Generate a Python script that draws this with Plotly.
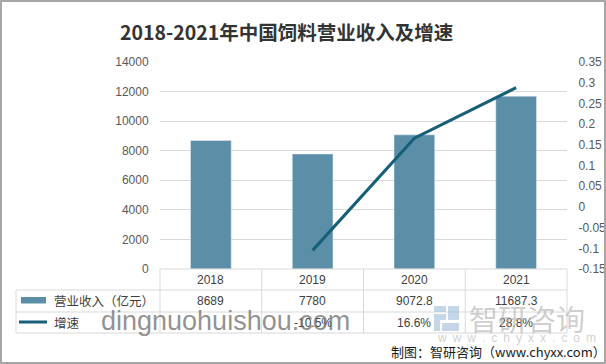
import plotly.graph_objects as go

# ---- data ----
years = ["2018", "2019", "2020", "2021"]
revenue = [8689, 7780, 9072.8, 11687.3]          # 营业收入（亿元）
growth_years = ["2019", "2020", "2021"]
growth = [-0.105, 0.166, 0.288]                  # 增速
left_ticks = [0, 2000, 4000, 6000, 8000, 10000, 12000, 14000]
right_ticks = [-0.15, -0.1, -0.05, 0, 0.05, 0.1, 0.15, 0.2, 0.25, 0.3, 0.35]
right_tick_text = ["-0.15", "-0.1", "-0.05", "0", "0.05", "0.1", "0.15", "0.2", "0.25", "0.3", "0.35"]
title = "2018-2021年中国饲料营业收入及增速"
series_names = ["营业收入（亿元）", "增速"]

W, H = 606, 364
ML, MR, MT, MB = 160, 39, 62, 95
PW, PH = W - ML - MR, H - MT - MB

def px(x):
    return (x - ML) / PW

def py(y):
    return (H - MB - y) / PH

BAR_C = "#5B8FA7"
LINE_C = "#175E7A"
GRID_C = "#D9D9D9"
TXT_C = "#404040"
FONT = "Liberation Sans, Noto Sans CJK SC, sans-serif"
CJK = "Noto Sans CJK SC, sans-serif"

fig = go.Figure()
fig.add_trace(go.Bar(x=years, y=revenue, marker_color=BAR_C, width=0.4,
                     name=series_names[0], showlegend=False, hoverinfo="skip"))
fig.add_trace(go.Scatter(x=growth_years, y=growth, yaxis="y2", mode="lines",
                         line=dict(color=LINE_C, width=3), name=series_names[1],
                         showlegend=False, hoverinfo="skip"))

shapes = []
ann = []

# table geometry (pixels)
row_y = [269, 290, 312, 333]
col_x = [160 + PW * i / 4 for i in range(5)]
tleft = 16

def hline(x0, x1, y):
    shapes.append(dict(type="line", xref="paper", yref="paper", x0=px(x0), x1=px(x1),
                       y0=py(y), y1=py(y), line=dict(color=GRID_C, width=1)))

def vline(x, y0, y1):
    shapes.append(dict(type="line", xref="paper", yref="paper", x0=px(x), x1=px(x),
                       y0=py(y0), y1=py(y1), line=dict(color=GRID_C, width=1)))

hline(col_x[0], col_x[-1], row_y[0])
for yy in row_y[1:]:
    hline(tleft, col_x[-1], yy)
for xx in col_x:
    vline(xx, row_y[0], row_y[-1])
vline(tleft, row_y[1], row_y[-1])

# table text (x in paper coords at category centres)
def cat_x(label):
    return (years.index(label) + 0.5) / len(years)

for i, yr in enumerate(years):
    ann.append(dict(x=cat_x(yr), xref="paper", y=py((row_y[0] + row_y[1]) / 2), yref="paper",
                    xanchor="center", yanchor="middle",
                    text=yr, showarrow=False, font=dict(family=FONT, size=12, color=TXT_C)))
    ann.append(dict(x=cat_x(yr), xref="paper", y=py((row_y[1] + row_y[2]) / 2), yref="paper",
                    xanchor="center", yanchor="middle",
                    text=f"{revenue[i]:g}", showarrow=False, font=dict(family=FONT, size=12, color=TXT_C)))
for yr, g in zip(growth_years, growth):
    ann.append(dict(x=cat_x(yr), xref="paper", y=py((row_y[2] + row_y[3]) / 2), yref="paper",
                    xanchor="center", yanchor="middle",
                    text=f"{g*100:.1f}%", showarrow=False, font=dict(family=FONT, size=12, color=TXT_C)))

# legend in table
shapes.append(dict(type="rect", xref="paper", yref="paper", x0=px(21), x1=px(46),
                   y0=py(297), y1=py(303.5), fillcolor=BAR_C, line=dict(width=0)))
shapes.append(dict(type="line", xref="paper", yref="paper", x0=px(19), x1=px(47),
                   y0=py(322), y1=py(322), line=dict(color=LINE_C, width=3)))
ann.append(dict(x=px(52), y=py(300.5), xref="paper", yref="paper", xanchor="left", yanchor="middle",
                text=series_names[0], showarrow=False, font=dict(family=CJK, size=12.5, color=TXT_C)))
ann.append(dict(x=px(52), y=py(322), xref="paper", yref="paper", xanchor="left", yanchor="middle",
                text=series_names[1], showarrow=False, font=dict(family=CJK, size=12.5, color=TXT_C)))

# title
ann.append(dict(x=px(286), y=py(31), xref="paper", yref="paper", xanchor="center", yanchor="middle",
                text=f"<b>{title}</b>",
                showarrow=False, font=dict(family=CJK, size=19.5, color="#333333")))

# watermarks
ann.append(dict(x=px(99), y=py(321), xref="paper", yref="paper", xanchor="left", yanchor="middle",
                text="dingnuohuishou.com", showarrow=False,
                font=dict(family="Liberation Sans, sans-serif", size=27, color="rgba(110,110,110,0.75)")))
logo_c = "rgba(150,180,210,0.55)"
for (x0, x1, y0, y1) in [(434, 446, 306, 312), (448, 459, 306, 320), (434, 446, 314, 320),
                         (434, 440, 320, 331), (442, 459, 323, 331)]:
    shapes.append(dict(type="rect", xref="paper", yref="paper", x0=px(x0), x1=px(x1),
                       y0=py(y0), y1=py(y1), fillcolor=logo_c, line=dict(width=0)))
ann.append(dict(x=px(467), y=py(318), xref="paper", yref="paper", xanchor="left", yanchor="middle",
                text="智研咨询", showarrow=False,
                font=dict(family=CJK, size=29, color="rgba(175,175,175,0.6)")))
ann.append(dict(x=px(435), y=py(338), xref="paper", yref="paper", xanchor="left", yanchor="middle",
                text="\u2002".join("www.chyxx.com"), showarrow=False,
                font=dict(family="Liberation Sans, sans-serif", size=12, color="rgba(175,175,175,0.6)")))

# footer
ann.append(dict(x=px(389), y=py(351), xref="paper", yref="paper", xanchor="left", yanchor="middle",
                text="制图：智研咨询（www.chyxx.com）", showarrow=False,
                font=dict(family=CJK, size=13, color="#1a1a1a")))

# outer border
shapes.append(dict(type="rect", xref="paper", yref="paper", x0=px(1), x1=px(605),
                   y0=py(1), y1=py(363), line=dict(color="#A6A6A6", width=2),
                   fillcolor="rgba(0,0,0,0)"))

fig.update_layout(
    width=W, height=H,
    margin=dict(l=ML, r=MR, t=MT, b=MB, autoexpand=False),
    paper_bgcolor="white", plot_bgcolor="white",
    showlegend=False,
    xaxis=dict(type="category", categoryorder="array", categoryarray=years,
               range=[-0.5, 3.5], showticklabels=False, showgrid=False,
               zeroline=False, showline=False, ticks="", automargin=False),
    yaxis=dict(range=[0, 14000], tickvals=left_ticks, ticktext=[str(t) for t in left_ticks],
               showgrid=True, gridcolor=GRID_C, gridwidth=1, zeroline=False, showline=False,
               ticks="outside", ticklen=8, tickcolor="rgba(0,0,0,0)", automargin=False,
               tickfont=dict(family=FONT, size=12, color="#595959")),
    yaxis2=dict(range=[-0.15, 0.35], overlaying="y", side="right",
                tickvals=right_ticks, ticktext=right_tick_text,
                showgrid=False, zeroline=False, showline=False, automargin=False,
                ticks="outside", ticklen=8, tickcolor="rgba(0,0,0,0)",
                tickfont=dict(family=FONT, size=12, color="#595959")),
    shapes=shapes, annotations=ann,
)

fig.write_html("out.html", config={"displayModeBar": False},
               post_script="document.body.style.margin='0px';document.body.style.overflow='hidden';")
